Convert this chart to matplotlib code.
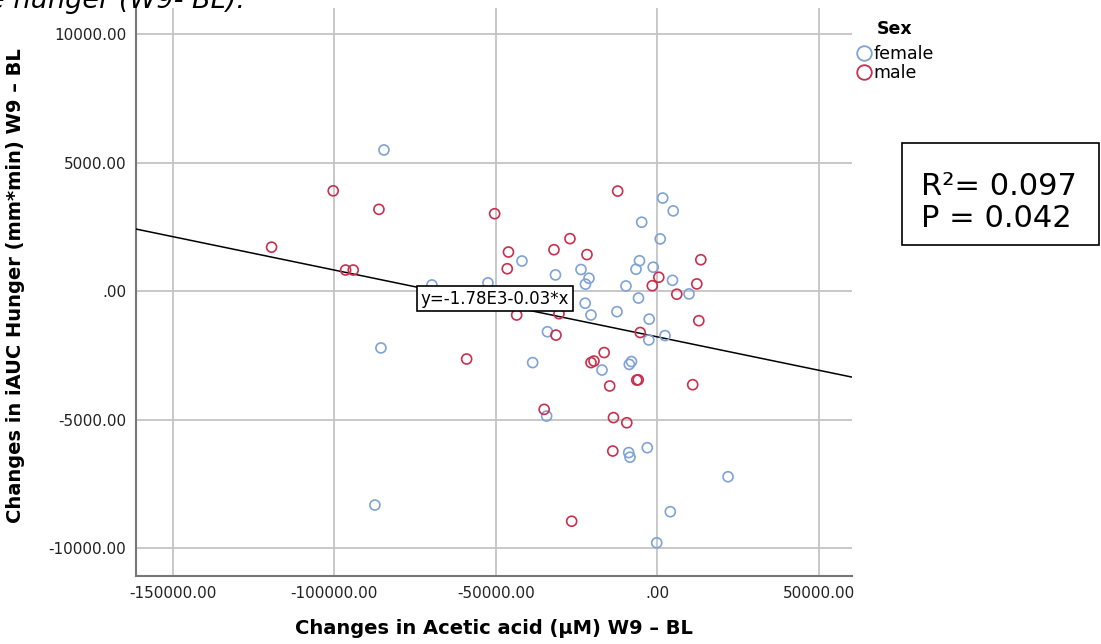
import matplotlib.pyplot as plt
import numpy as np
from matplotlib.lines import Line2D
from matplotlib.patches import Rectangle

# change W9 - BL: acetic acid (uM) vs iAUC hunger (mm*min)
female_x = [-84600, -69750, -52420, -85530, -87390, -41900, -31530, -23640, -21170, -22250,
            -9720, -5540, -6620, -1300, 870, -4860, 1640, 4890, 4670, 9780,
            -5850, -22340, -20550, -12500, -2540, 2350, -2660, -8020, -8700, -34010,
            -38590, -17140, -34260, -8880, -8480, -3130, 21850, 3990, -220]
female_y = [5490, 240, 320, -2210, -8320, 1170, 630, 840, 500, 270,
            200, 1180, 850, 930, 2030, 2680, 3620, 3120, 420, -110,
            -270, -470, -930, -800, -1090, -1730, -1900, -2740, -2850, -1580,
            -2780, -3070, -4860, -6280, -6460, -6090, -7220, -8580, -9790]

male_x = [-100290, -86150, -119360, -96460, -94100, -59010, -50350, -27050, -46080, -32000,
          -21790, -46450, -43540, -30450, -31380, -12290, 13430, 430, -1580, 12190,
          6000, 12810, -5320, -16460, -19620, -20550, -6380, -5940, -14760, 10920,
          -35030, -13590, -9470, -13800, -26520]
male_y = [3900, 3180, 1710, 820, 820, -2640, 3010, 2040, 1520, 1610,
          1420, 870, -930, -880, -1710, 3890, 1220, 540, 210, 280,
          -120, -1150, -1610, -2390, -2720, -2780, -3460, -3450, -3690, -3640,
          -4600, -4920, -5120, -6220, -8950]

fit_intercept = -1780
fit_slope = -0.026
r_squared = 0.097
p_value = 0.042

x_ticks = [-150000, -100000, -50000, 0, 50000]
y_ticks = [-10000, -5000, 0, 5000, 10000]

BLUE = '#7ea3d6'
RED = '#c8304e'


def spss_fmt(v):
    s = f"{v:.2f}"
    if s.startswith("0."):
        s = s[1:]
    return s


fig = plt.figure(figsize=(11.01, 6.44), dpi=100)
ax = fig.add_axes([136 / 1101, 68 / 644, 716 / 1101, 568.5 / 644])

ax.set_xlim(-161300, 60200)
ax.set_ylim(-11080, 11030)

ax.scatter(female_x, female_y, s=52, facecolors='none', edgecolors=BLUE, linewidths=1.2, zorder=4)
ax.scatter(male_x, male_y, s=52, facecolors='none', edgecolors=RED, linewidths=1.2, zorder=4)

# fit line across the full x range
xs = np.array(ax.get_xlim())
ax.plot(xs, fit_intercept + fit_slope * xs, color='black', lw=1.1, zorder=3)
eq = f"y={fit_intercept / 1000:.2f}E3{fit_slope:.2f}*x"
ax.text(-50250, -290, eq, ha='center', va='center', fontsize=12, zorder=6,
        bbox=dict(boxstyle='square,pad=0.22', fc='white', ec='black', lw=1.2))

ax.set_xticks(x_ticks)
ax.set_yticks(y_ticks)
ax.set_xticklabels([spss_fmt(v) for v in x_ticks])
ax.set_yticklabels([spss_fmt(v) for v in y_ticks])
ax.tick_params(length=0, labelsize=11, pad=7, colors='#222222')
ax.grid(True, color='#c4c4c4', lw=1.3, zorder=0)
ax.set_axisbelow(True)

for side in ['top', 'right']:
    ax.spines[side].set_visible(False)
for side in ['left', 'bottom']:
    ax.spines[side].set_color('#777777')
    ax.spines[side].set_linewidth(1.5)

ax.set_xlabel('Changes in Acetic acid (μM) W9 – BL', fontsize=14, fontweight='bold', labelpad=13)
ax.set_ylabel('Changes in iAUC Hunger (mm*min) W9 – BL', fontsize=14, fontweight='bold')
ax.yaxis.set_label_coords(-111 / 716, 0.51)

# legend: title drawn separately so it sits higher above the entries
fig.text(895 / 1101, 1 - 34 / 644, 'Sex', ha='center', va='baseline', fontsize=12.5, fontweight='bold')
handles = [Line2D([], [], ls='none', marker='o', ms=10.5, mfc='none', mec=BLUE, mew=1.3),
           Line2D([], [], ls='none', marker='o', ms=10.5, mfc='none', mec=RED, mew=1.3)]
fig.legend(handles, ['female', 'male'], loc='upper left',
           bbox_to_anchor=(857 / 1101, 1 - 45 / 644), frameon=False, fontsize=12.5,
           handlelength=0.8, handletextpad=0.15, labelspacing=0.08, borderpad=0,
           borderaxespad=0)

fig.add_artist(Rectangle((902 / 1101, 1 - 245 / 644), 197 / 1101, 102 / 644,
                         transform=fig.transFigure, fill=False, ec='black', lw=1.2))
fig.text(921 / 1101, 1 - 195 / 644, f"R²= {r_squared:.3f}", fontsize=22, va='baseline')
fig.text(921 / 1101, 1 - 227 / 644, f"P = {p_value:.3f}", fontsize=22, va='baseline')

# caption line running in from above
fig.text(-12 / 1101, 1 - 8 / 644, 'e hunger (W9- BL).', fontsize=19.5, style='italic', va='baseline')

fig.savefig('out.png', dpi=100)
